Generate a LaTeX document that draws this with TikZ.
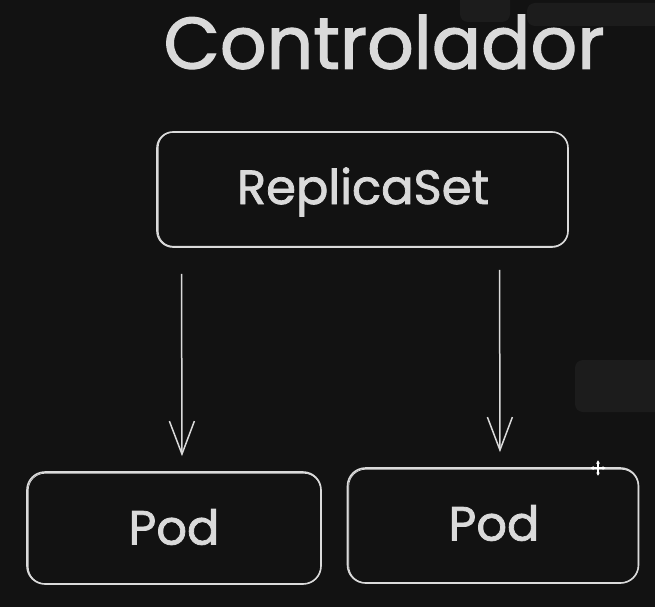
\documentclass[tikz,border=0pt]{standalone}
\usepackage{fontspec}
\setmainfont{Poppins}
\newfontfamily\sketchfont[FakeBold=1.6]{Poppins}
\usetikzlibrary{arrows.meta,positioning}
\definecolor{bgcol}{HTML}{121212}
\definecolor{inkcol}{HTML}{DADADA}
\definecolor{uicol}{HTML}{1C1C1C}
\begin{document}
\begin{tikzpicture}[x=1pt, y=-1pt,
	sketch/.style={draw=inkcol, line width=1.6pt},
	box/.style={sketch, rounded corners=16pt, inner sep=0pt},
	label/.style={text=inkcol, font=\sketchfont\fontsize{48}{54}\selectfont},
	arr/.style={inkcol, line width=1.5pt, -{Straight Barb[length=33pt, width=25pt]}}
]
\fill [bgcol] (0,0) rectangle (655,607);
\useasboundingbox (0,0) rectangle (655,607);

% faint overlays of the editor
\fill [uicol, rounded corners=8pt] (460,-8) rectangle (510,22);
\fill [uicol, rounded corners=8pt] (527,3) rectangle (670,26);
\fill [uicol, rounded corners=8pt] (575,360) rectangle (670,412);

% title
\node [text=inkcol, font=\sketchfont\fontsize{73}{80}\selectfont] (title) at (384,42)
{Controlador};

% boxes
\node [box, minimum width=411pt, minimum height=115pt] (rs) at (362.5,189.5) {};
\node [label] (rstext) at (363,192) {ReplicaSet};
\node [box, rounded corners=18pt, minimum width=294pt, minimum height=112pt]
(pod1) at (174,528) {};
\node [label] (pod1text) at (174,527) {Pod};
\node [box, rounded corners=18pt, minimum width=291pt, minimum height=115pt]
(pod2) at (493,525.5) {};
\node [label] (pod2text) at (494,523) {Pod};

% second strokes, hand drawn look
\draw [sketch, line width=0.8pt, rounded corners=15pt]
([shift={(2pt,-1pt)}]rs.north west) rectangle ([shift={(-1pt,1.5pt)}]rs.south east);
\foreach \p in {pod1,pod2}{
	\draw [sketch, line width=0.8pt, rounded corners=17pt]
	([shift={(2pt,-2pt)}]\p.north west) rectangle ([shift={(-1pt,1pt)}]\p.south east);
}

% arrows
\draw [arr, shorten <=26pt, shorten >=15pt]
([xshift=-181pt]rs.south) -- ([xshift=8pt]pod1.north);
\draw [arr, shorten <=22pt, shorten >=15pt]
([xshift=137pt]rs.south) -- ([xshift=7pt]pod2.north);

% move cursor
\draw [white, line width=1.3pt, {Latex[length=3.5pt,width=4pt]}-{Latex[length=3.5pt,width=4pt]}]
(590,468) -- (606,468);
\draw [white, line width=1.3pt, {Latex[length=3.5pt,width=4pt]}-{Latex[length=3.5pt,width=4pt]}]
(598,460) -- (598,476);
\end{tikzpicture}
\end{document}
